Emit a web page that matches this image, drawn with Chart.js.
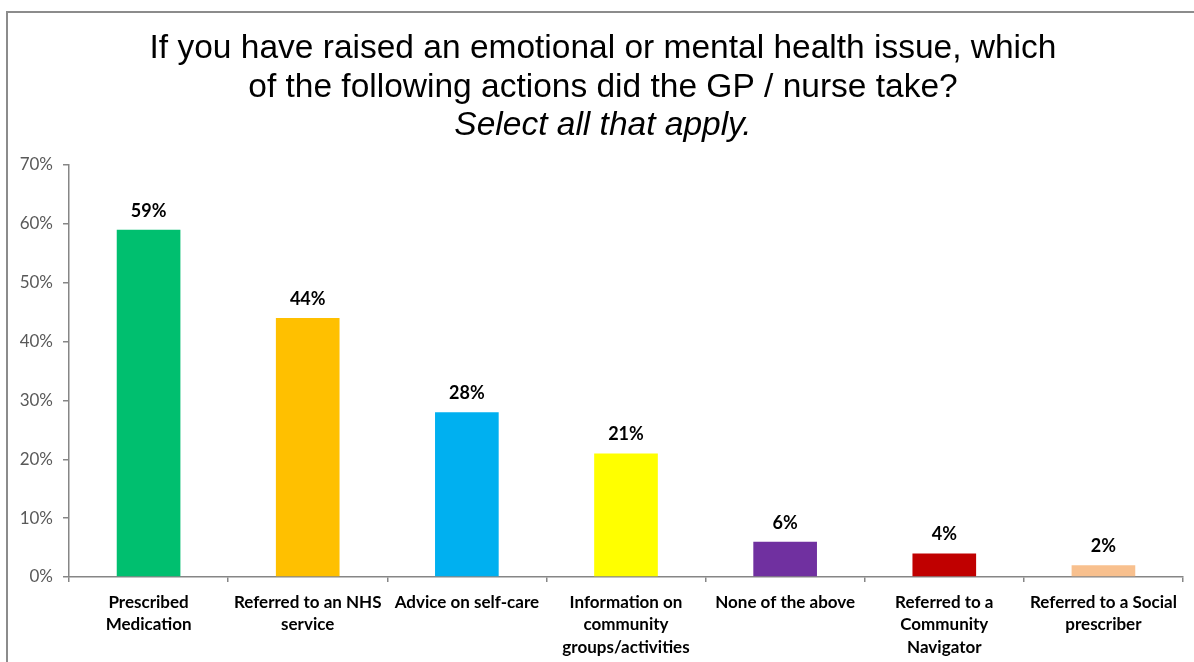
<!DOCTYPE html>
<html>
<head>
<meta charset="utf-8">
<title>GP / nurse actions</title>
<script src="https://cdn.jsdelivr.net/npm/chart.js@4/dist/chart.umd.min.js"></script>
<style>
  html, body { margin: 0; padding: 0; background: #fff; }
  #wrap { position: relative; width: 1194px; height: 662px; overflow: hidden; }
  #frame { position: absolute; left: 6px; top: 11px; width: 1300px; height: 800px;
           border-left: 2px solid #8c8c8c; border-top: 2px solid #8c8c8c; }
  canvas { position: absolute; left: 0; top: 0; }
</style>
</head>
<body>
<div id="wrap">
  <div id="frame"></div>
  <canvas id="actionsChart" width="1194" height="662"></canvas>
</div>
<script>
  // Answers to the question, in the order shown
  const categories = [
    ['Prescribed', 'Medication'],
    ['Referred to an NHS', 'service'],
    ['Advice on self-care'],
    ['Information on', 'community', 'groups/activities'],
    ['None of the above'],
    ['Referred to a', 'Community', 'Navigator'],
    ['Referred to a Social', 'prescriber']
  ];
  // Share of respondents (%)
  const percentages = [59, 44, 28, 21, 6, 4, 2];
  const barColours = ['#00BF6F', '#FFC000', '#00B0F0', '#FFFF00', '#7030A0', '#C00000', '#F8C08E'];
  const yTicks = [0, 10, 20, 30, 40, 50, 60, 70];

  const headingLines = [
    'If you have raised an emotional or mental health issue, which',
    'of the following actions did the GP / nurse take?'
  ];
  const headingNote = 'Select all that apply.';

  // Question text, centred on the slide rather than on the plot
  const heading = {
    id: 'heading',
    afterDraw(chart) {
      const ctx = chart.ctx;
      ctx.save();
      ctx.fillStyle = '#000';
      ctx.textAlign = 'center';
      ctx.textBaseline = 'middle';
      ctx.font = '33.5px "Liberation Sans", Arial, sans-serif';
      ctx.fillText(headingLines[0], 603, 49);
      ctx.fillText(headingLines[1], 603, 88);
      ctx.font = 'italic 33.5px "Liberation Sans", Arial, sans-serif';
      ctx.fillText(headingNote, 603, 126);
      ctx.restore();
    }
  };

  // Writes the percentage above each bar
  const valueLabels = {
    id: 'valueLabels',
    afterDatasetsDraw(chart) {
      const ctx = chart.ctx;
      const meta = chart.getDatasetMeta(0);
      ctx.save();
      ctx.font = 'bold 18px Lato, "Liberation Sans", sans-serif';
      ctx.fillStyle = '#000';
      ctx.textAlign = 'center';
      ctx.textBaseline = 'alphabetic';
      meta.data.forEach((bar, i) => {
        ctx.fillText(percentages[i] + '%', bar.x, bar.y - 13);
      });
      ctx.restore();
    }
  };

  const ctx = document.getElementById('actionsChart').getContext('2d');
  new Chart(ctx, {
    type: 'bar',
    data: {
      labels: categories,
      datasets: [{
        data: percentages,
        backgroundColor: barColours,
        borderWidth: 0,
        barPercentage: 0.4,
        categoryPercentage: 1.0
      }]
    },
    options: {
      responsive: false,
      animation: false,
      layout: { padding: { left: 0, right: 11, top: 165, bottom: 0 } },
      plugins: {
        legend: { display: false },
        tooltip: { enabled: false }
      },
      scales: {
        x: {
          afterFit(scale) { scale.height = 85; },
          grid: { drawOnChartArea: false, drawTicks: true, tickLength: 5, color: '#868686', lineWidth: 1.5, offset: true },
          border: { color: '#868686', width: 1.5 },
          ticks: {
            color: '#000',
            padding: 9,
            maxRotation: 0,
            autoSkip: false,
            font: { family: 'Lato, "Liberation Sans", sans-serif', size: 17, weight: 'bold', lineHeight: 1.33 }
          }
        },
        y: {
          min: 0,
          max: 70,
          afterFit(scale) { scale.width = 69; },
          afterBuildTicks(scale) { scale.ticks = yTicks.map(v => ({ value: v })); },
          grid: { drawOnChartArea: false, drawTicks: true, tickLength: 6, color: '#868686', lineWidth: 1.5 },
          border: { color: '#868686', width: 1.5 },
          ticks: {
            color: '#595959',
            padding: 10,
            font: { family: 'Lato, "Liberation Sans", sans-serif', size: 17 },
            callback: v => v + '%'
          }
        }
      }
    },
    plugins: [valueLabels, heading]
  });
</script>
</body>
</html>
